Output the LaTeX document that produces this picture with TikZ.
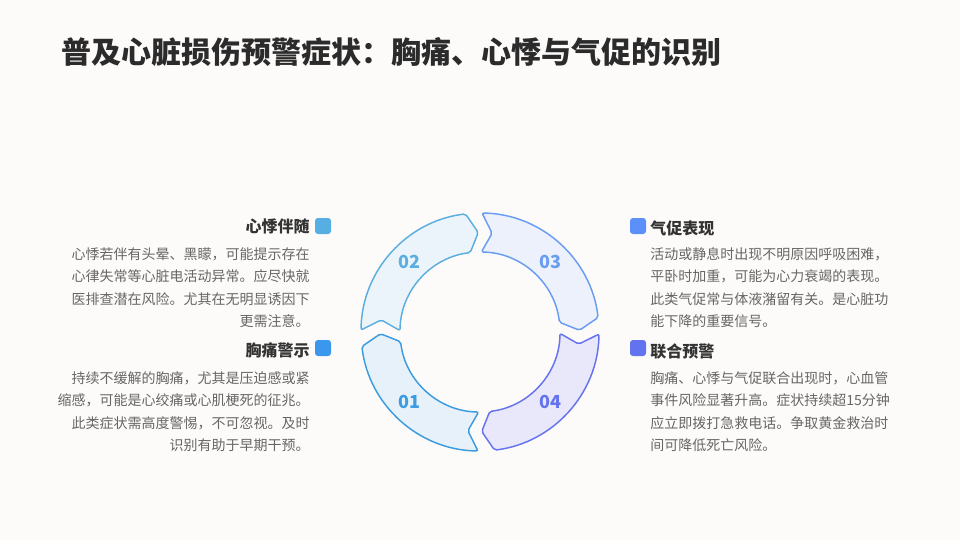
\documentclass[tikz,border=0pt]{standalone}
\usepackage{fontspec}
\setmainfont{Noto Sans CJK SC}
\definecolor{bgc}{HTML}{FDFBF9}
\definecolor{hc}{HTML}{2B2B2B}
\definecolor{tc}{HTML}{333333}
\definecolor{bc}{HTML}{666666}
\definecolor{sa}{HTML}{3D9BE0}\definecolor{fa}{HTML}{E7F1FA}
\definecolor{sb}{HTML}{5BAEE0}\definecolor{fb}{HTML}{EBF4FA}
\definecolor{sc}{HTML}{6A9CF2}\definecolor{fc}{HTML}{ECF1FC}
\definecolor{sd}{HTML}{6673EE}\definecolor{fd}{HTML}{E8E8FA}
\definecolor{qa}{HTML}{3B96EE}
\definecolor{qb}{HTML}{56AEE2}
\definecolor{qc}{HTML}{5B8FF9}
\definecolor{qd}{HTML}{6373F0}
\tikzset{
  headline/.style={font=\fontsize{22.5pt}{26pt}\selectfont\bfseries, text=hc, inner sep=0},
  sectitle/.style={font=\fontsize{12pt}{14pt}\selectfont\bfseries, text=tc, inner sep=0},
  bodytext/.style={font=\fontsize{10.5pt}{16.875pt}\selectfont, text=bc, inner sep=0},
  sq/.style={minimum size=12pt, inner sep=0, rounded corners=2.2pt},
  seg/.style={line width=1.1pt, rounded corners=1.5pt},
  num/.style={font=\fontsize{13.5pt}{16pt}\selectfont\bfseries, inner sep=0}
}
\begin{document}
\begin{tikzpicture}[x=0.75pt,y=-0.75pt]
\fill[bgc] (0,0) rectangle (960,540);
\useasboundingbox (0,0) rectangle (960,540);
\node[headline, anchor=west] (title) at (61,52) {普及心脏损伤预警症状：胸痛、心悸与气促的识别};

\begin{scope}[shift={(480,332)}, y=0.75pt]
\foreach \a/\s/\f in {179/sb/fb, 89/sc/fc, -1/sd/fd, -91/sa/fa}{
  \draw[seg, draw=\s, fill=\f] (\a:119) arc[start angle=\a, end angle=\a-82, radius=119]
    -- (\a-88:99.5) -- (\a-82:80) arc[start angle=\a-82, end angle=\a, radius=80]
    -- (\a-6:99.5) -- cycle;
}
\node[num, text=sb] (n02) at (135:99.5) {02};
\node[num, text=sc] (n03) at (45:99.5) {03};
\node[num, text=sd] (n04) at (-45:99.5) {04};
\node[num, text=sa] (n01) at (-135:99.5) {01};
\end{scope}

% left top
\node[sq, fill=qb] (q2) at (323,226) {};
\node[sectitle, anchor=east] (t2) at (310,226) {心悸伴随};
\node[bodytext, anchor=north east, align=right] (b2) at (310,247) {心悸若伴有头晕、黑矇，可能提示存在\\心律失常等心脏电活动异常。应尽快就\\医排查潜在风险。尤其在无明显诱因下\\更需注意。};

% left bottom
\node[sq, fill=qa] (q1) at (323,348) {};
\node[sectitle, anchor=east] (t1) at (310,350) {胸痛警示};
\node[bodytext, anchor=north east, align=right] (b1) at (310,371) {持续不缓解的胸痛，尤其是压迫感或紧\\缩感，可能是心绞痛或心肌梗死的征兆。\\此类症状需高度警惕，不可忽视。及时\\识别有助于早期干预。};

% right top
\node[sq, fill=qc] (q3) at (638,226) {};
\node[sectitle, anchor=west] (t3) at (650,228) {气促表现};
\node[bodytext, anchor=north west, align=left] (b3) at (650,247) {活动或静息时出现不明原因呼吸困难，\\平卧时加重，可能为心力衰竭的表现。\\此类气促常与体液潴留有关。是心脏功\\能下降的重要信号。};

% right bottom
\node[sq, fill=qd] (q4) at (638,348) {};
\node[sectitle, anchor=west] (t4) at (650,351) {联合预警};
\node[bodytext, anchor=north west, align=left] (b4) at (650,371) {胸痛、心悸与气促联合出现时，心血管\\事件风险显著升高。症状持续超15分钟\\应立即拨打急救电话。争取黄金救治时\\间可降低死亡风险。};
\end{tikzpicture}
\end{document}
